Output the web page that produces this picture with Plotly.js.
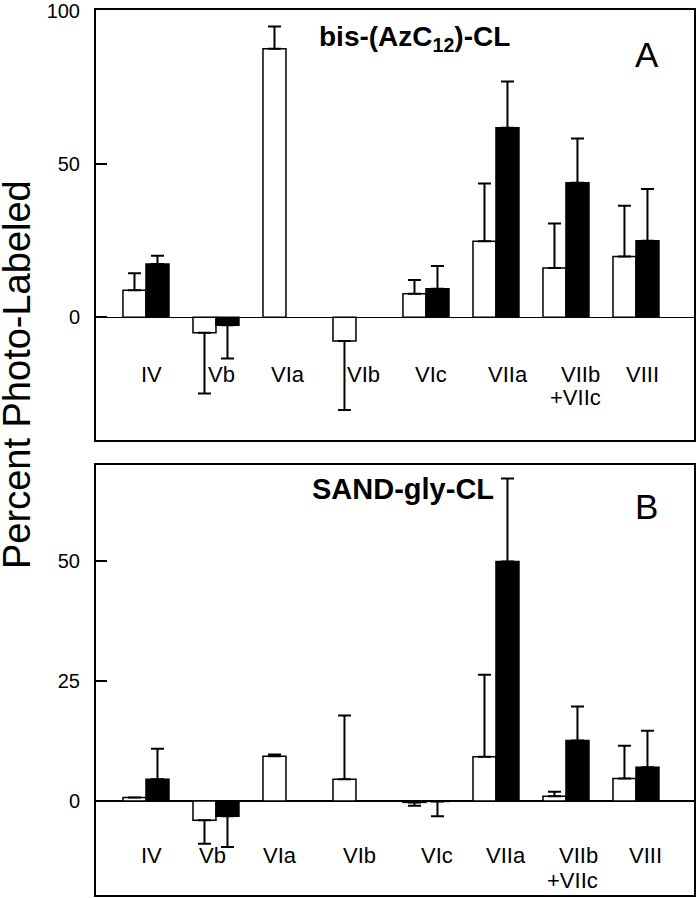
<!DOCTYPE html>
<html><head><meta charset="utf-8">
<script src="https://cdn.plot.ly/plotly-3.0.1.min.js"></script>
<style>html,body{margin:0;padding:0;background:#fff}</style>
</head><body><div id="chart" style="width:696px;height:898px"></div>
<script>
// ---- data ----
const categories = ["IV","Vb","VIa","VIb","VIc","VIIa","VIIb+VIIc","VIII"];
const categoryLabelLines = [["IV"],["Vb"],["VIa"],["VIb"],["VIc"],["VIIa"],["VIIb","+VIIc"],["VIII"]];
const panelATitle = "bis-(AzC<sub>12</sub>)-CL";
const panelBTitle = "SAND-gly-CL";
const panelALetter = "A";
const panelBLetter = "B";
const yAxisTitle = "Percent Photo-Labeled";

const aOpen      = [8.8, -5.0, 87.6, -7.7, 7.7, 24.8, 16.1, 19.8];
const aOpenErr   = [5.6, 19.8, 7.2, 22.5, 4.5, 18.8, 14.5, 16.6];
const aFilled    = [17.4, -2.6, null, null, 9.3, 61.8, 43.9, 25.0];
const aFilledErr = [2.7, 10.8, 0, 0, 7.4, 15.1, 14.4, 16.8];

const bOpen      = [0.7, -4.0, 9.3, 4.5, -0.3, 9.2, 1.0, 4.7];
const bOpenErr   = [0, 4.9, 0.4, 13.3, 0.7, 17.1, 0.9, 6.8];
const bFilled    = [4.5, -3.2, null, null, -0.1, 49.9, 12.6, 7.0];
const bFilledErr = [6.4, 6.4, 0, 0, 3.1, 17.3, 7.1, 7.6];

const yTicksA = [0, 50, 100];
const yTicksB = [0, 25, 50];

// ---- layout helpers ----
const W = 696, H = 898;
const M = {l: 96, r: 2, t: 10, b: 3};
const PW = W - M.l - M.r, PH = H - M.t - M.b;
const px2x = p => (p - M.l) / PW;
const px2y = p => (H - M.b - p) / PH;
const FONT = "Liberation Sans, Arial, Helvetica, sans-serif";

const plusErr = (v, e) => v.map((d, i) => (d !== null && d >= 0) ? e[i] : 0);
const minusErr = (v, e) => v.map((d, i) => (d !== null && d < 0) ? e[i] : 0);

function barTrace(vals, errs, fill, xa, ya) {
  return {
    type: 'bar', x: categories, y: vals, xaxis: xa, yaxis: ya,
    marker: {color: fill, line: {color: 'black', width: 1.5}},
    error_y: {type: 'data', symmetric: false, array: plusErr(vals, errs), arrayminus: minusErr(vals, errs),
              color: 'black', thickness: 2, width: 6.5},
    hoverinfo: 'skip', showlegend: false
  };
}

const data = [
  barTrace(aOpen, aOpenErr, 'white', 'x', 'y'),
  barTrace(aFilled, aFilledErr, 'black', 'x', 'y'),
  barTrace(bOpen, bOpenErr, 'white', 'x2', 'y2'),
  barTrace(bFilled, bFilledErr, 'black', 'x2', 'y2')
];

const xRange = [-0.714, 7.829];
function xAxis(anchor) {
  return {domain: [0, 1], anchor: anchor, type: 'category', range: xRange, showticklabels: false, ticks: '',
          showline: true, mirror: true, linecolor: 'black', linewidth: 2, showgrid: false, zeroline: false, fixedrange: true};
}
function yAxis(anchor, domain, range, tv) {
  return {domain: domain, anchor: anchor, range: range, tickvals: tv, ticktext: tv.map(String),
          ticks: 'inside', ticklen: 11, tickwidth: 2, tickcolor: 'black',
          showline: true, mirror: true, linecolor: 'black', linewidth: 2, showgrid: false,
          zeroline: true, zerolinecolor: 'black', zerolinewidth: 1.5, ticklabeloverflow: 'allow',
          tickfont: {size: 20, family: FONT, color: 'black'}, ticklabelstandoff: 10, fixedrange: true};
}

// label placement (pixels)
const labelShiftA = [[6],[6],[2],[8],[5],[12],[15,10],[7]];
const labelShiftB = [[6],[-3],[-6],[4],[11],[10],[13,7],[10]];
const labelYA = [374, 397];
const labelYB = [855, 880];

const annotations = [];
function addLabels(xref, shifts, ys) {
  categoryLabelLines.forEach((lines, i) => {
    lines.forEach((t, k) => {
      annotations.push({xref: xref, yref: 'paper', x: i, y: px2y(ys[k]), text: t, showarrow: false,
        xanchor: 'center', yanchor: 'middle', xshift: shifts[i][k], font: {size: 22, family: FONT, color: 'black'}});
    });
  });
}
addLabels('x', labelShiftA, labelYA);
addLabels('x2', labelShiftB, labelYB);

annotations.push({xref: 'paper', yref: 'paper', x: px2x(414), y: px2y(38), text: '<b>' + panelATitle + '</b>',
  showarrow: false, xanchor: 'center', yanchor: 'middle', font: {size: 28, family: FONT, color: 'black'}});
annotations.push({xref: 'paper', yref: 'paper', x: px2x(403), y: px2y(489), text: '<b>' + panelBTitle + '</b>',
  showarrow: false, xanchor: 'center', yanchor: 'middle', font: {size: 29, family: FONT, color: 'black'}});
annotations.push({xref: 'paper', yref: 'paper', x: px2x(647), y: px2y(54), text: panelALetter,
  showarrow: false, xanchor: 'center', yanchor: 'middle', font: {size: 35, family: FONT, color: 'black'}});
annotations.push({xref: 'paper', yref: 'paper', x: px2x(646.5), y: px2y(506), text: panelBLetter,
  showarrow: false, xanchor: 'center', yanchor: 'middle', font: {size: 35, family: FONT, color: 'black'}});
annotations.push({xref: 'paper', yref: 'paper', x: px2x(17), y: px2y(375), text: yAxisTitle, textangle: -90,
  showarrow: false, xanchor: 'center', yanchor: 'middle', font: {size: 38, family: FONT, color: 'black'}});

const layout = {
  width: W, height: H, margin: M,
  paper_bgcolor: 'white', plot_bgcolor: 'white',
  barmode: 'group', bargap: 0.343, bargroupgap: 0,
  xaxis: xAxis('y'),
  yaxis: yAxis('x', [px2y(440), 1], [-40, 100.2], yTicksA),
  xaxis2: xAxis('y2'),
  yaxis2: yAxis('x2', [0, px2y(465)], [-19.6, 70], yTicksB),
  annotations: annotations,
  showlegend: false
};

Plotly.newPlot('chart', data, layout, {displayModeBar: false, staticPlot: true});
</script>
</body></html>
